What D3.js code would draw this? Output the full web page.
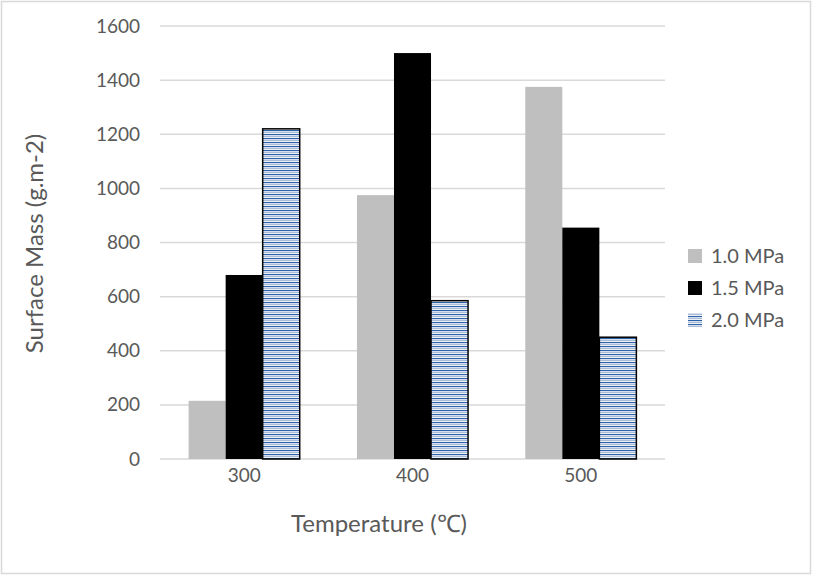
<!DOCTYPE html>
<meta charset="utf-8">
<style>
body { margin: 0; background: #fff; }
text { font-family: Lato, "Open Sans", sans-serif; fill: #595959; }
.grid line { stroke: #d9d9d9; stroke-width: 1.5; }
</style>
<body>
<script src="https://d3js.org/d3.v7.min.js"></script>
<script>
var categories = ["300", "400", "500"];
var series = ["1.0 MPa", "1.5 MPa", "2.0 MPa"];
var v10 = [215, 975, 1375];
var v15 = [680, 1500, 855];
var v20 = [1220, 585, 450];
var yTicks = [0, 200, 400, 600, 800, 1000, 1200, 1400, 1600];

var W = 813, H = 576;
var margin = {top: 26, left: 160, right: 148, bottom: 117};
var width = W - margin.left - margin.right,
    height = H - margin.top - margin.bottom;

var svg = d3.select("body").append("svg")
    .attr("width", W).attr("height", H);

var defs = svg.append("defs");
var pat = defs.append("pattern")
    .attr("id", "hatch").attr("patternUnits", "userSpaceOnUse")
    .attr("width", 8).attr("height", 4);
pat.append("rect").attr("width", 8).attr("height", 4).attr("fill", "#fff");
pat.append("rect").attr("y", 0).attr("width", 8).attr("height", 1.2).attr("fill", "#2f62a8");
pat.append("rect").attr("y", 2).attr("width", 8).attr("height", 1.2).attr("fill", "#a9bcd6");

svg.append("rect")
    .attr("x", 1.5).attr("y", 1.5).attr("width", W - 4).attr("height", H - 4)
    .attr("fill", "#fff").attr("stroke", "#d9d9d9").attr("stroke-width", 1.5);

var g = svg.append("g").attr("transform", "translate(" + margin.left + "," + margin.top + ")");

var y = d3.scaleLinear().domain([0, 1600]).range([height, 0]);
var x = d3.scaleBand().domain(categories).range([0, width]).paddingInner(0.34).paddingOuter(0.17);
var xs = d3.scaleBand().domain(series).range([0, x.bandwidth()]);

g.append("g").attr("class", "grid")
    .selectAll("line").data(yTicks).enter().append("line")
    .attr("x1", 0).attr("x2", width)
    .attr("y1", function(d) { return y(d); }).attr("y2", function(d) { return y(d); });

var data = [v10, v15, v20];
var fills = ["#bfbfbf", "#000000", "url(#hatch)"];

series.forEach(function(s, si) {
  g.selectAll(".bar" + si).data(data[si]).enter().append("rect")
    .attr("x", function(d, i) { return x(categories[i]) + xs(s); })
    .attr("y", function(d) { return y(d); })
    .attr("width", xs.bandwidth())
    .attr("height", function(d) { return height - y(d); })
    .attr("fill", fills[si])
    .attr("stroke", si === 2 ? "#000" : "none")
    .attr("stroke-width", si === 2 ? 1.5 : 0);
});

var yAxis = d3.axisLeft(y).tickValues(yTicks).tickFormat(d3.format("d")).tickSize(0).tickPadding(20);
var ya = g.append("g").call(yAxis);
ya.select(".domain").remove();
ya.selectAll("text").style("font-size", "19px").attr("fill", "#595959");

var xAxis = d3.axisBottom(x).tickSize(0).tickPadding(10);
var xa = g.append("g").attr("transform", "translate(0," + height + ")").call(xAxis);
xa.select(".domain").remove();
xa.selectAll("text").style("font-size", "19px").attr("fill", "#595959");

svg.append("text")
    .attr("transform", "translate(43," + (margin.top + height / 2 + 1) + ") rotate(-90)")
    .attr("text-anchor", "middle").style("font-size", "24px")
    .text("Surface Mass (g.m-2)");

svg.append("text")
    .attr("x", 379).attr("y", 532)
    .attr("text-anchor", "middle").style("font-size", "24px")
    .text("Temperature (℃)");

var leg = svg.append("g").attr("transform", "translate(688,256)");
series.forEach(function(s, si) {
  var row = leg.append("g").attr("transform", "translate(0," + si * 32 + ")");
  row.append("rect").attr("x", 0).attr("y", -7).attr("width", 14).attr("height", 14)
    .attr("fill", fills[si]);
  row.append("text").attr("x", 23).attr("y", 0).attr("dy", "0.35em")
    .style("font-size", "20px").text(s);
});
</script>
</body>
